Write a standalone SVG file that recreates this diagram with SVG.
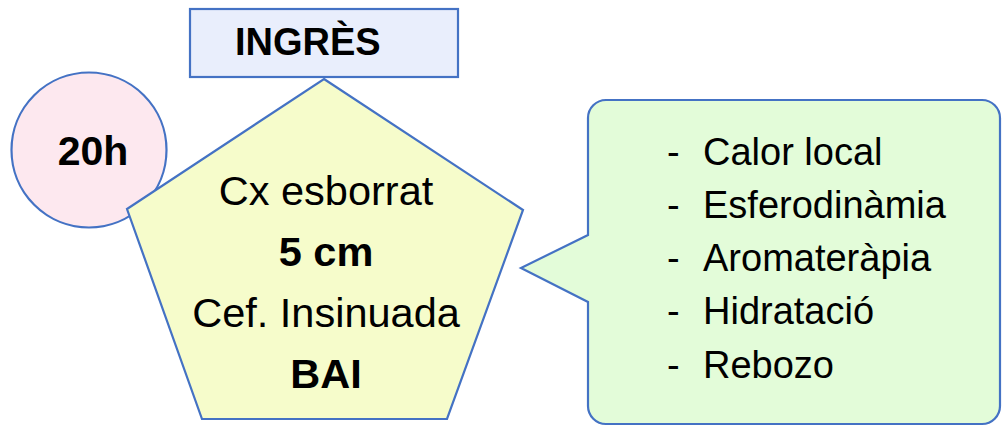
<svg xmlns="http://www.w3.org/2000/svg" width="1002" height="426" viewBox="0 0 1002 426">
<style>
.shape{stroke:#4472C4;stroke-width:2.2;stroke-linejoin:miter}
.t{font-family:"Liberation Sans",Arial,sans-serif;fill:#000}
.b{font-weight:bold}
.pt{font-size:41.5px;text-anchor:middle}
.lt{font-size:38px}
</style>
<rect width="1002" height="426" fill="#ffffff"/>
<g id="ingres">
<rect class="shape" x="190" y="9" width="268" height="68" fill="#E9EEFC"/>
<text class="t b" x="235" y="55" font-size="38">INGRÈS</text>
</g>
<g id="hora">
<circle class="shape" cx="89" cy="150" r="77.5" fill="#FDE8EF"/>
<text class="t b" x="93" y="165" font-size="41" text-anchor="middle">20h</text>
</g>
<g id="estat">
<polygon class="shape" points="324,79 523,210 447,419 202,419 127,209" fill="#F6FCCB"/>
<text class="t pt" x="326" y="205">Cx esborrat</text>
<text class="t pt b" x="326" y="266">5 cm</text>
<text class="t pt" x="326" y="327">Cef. Insinuada</text>
<text class="t pt b" x="326" y="388">BAI</text>
</g>
<g id="mesures">
<path class="shape" d="M606,100 H982 A18,18 0 0 1 1000,118 V406 A18,18 0 0 1 982,424 H606 A18,18 0 0 1 588,406 V302 L521,268 L588,235 V118 A18,18 0 0 1 606,100 Z" fill="#E3FCD9"/>
<g class="t lt">
<text x="667" y="165">-</text><text x="703" y="165">Calor local</text>
<text x="667" y="218">-</text><text x="703" y="218">Esferodinàmia</text>
<text x="667" y="271">-</text><text x="703" y="271">Aromateràpia</text>
<text x="667" y="324">-</text><text x="703" y="324">Hidratació</text>
<text x="667" y="378">-</text><text x="703" y="378">Rebozo</text>
</g>
</g>
</svg>
